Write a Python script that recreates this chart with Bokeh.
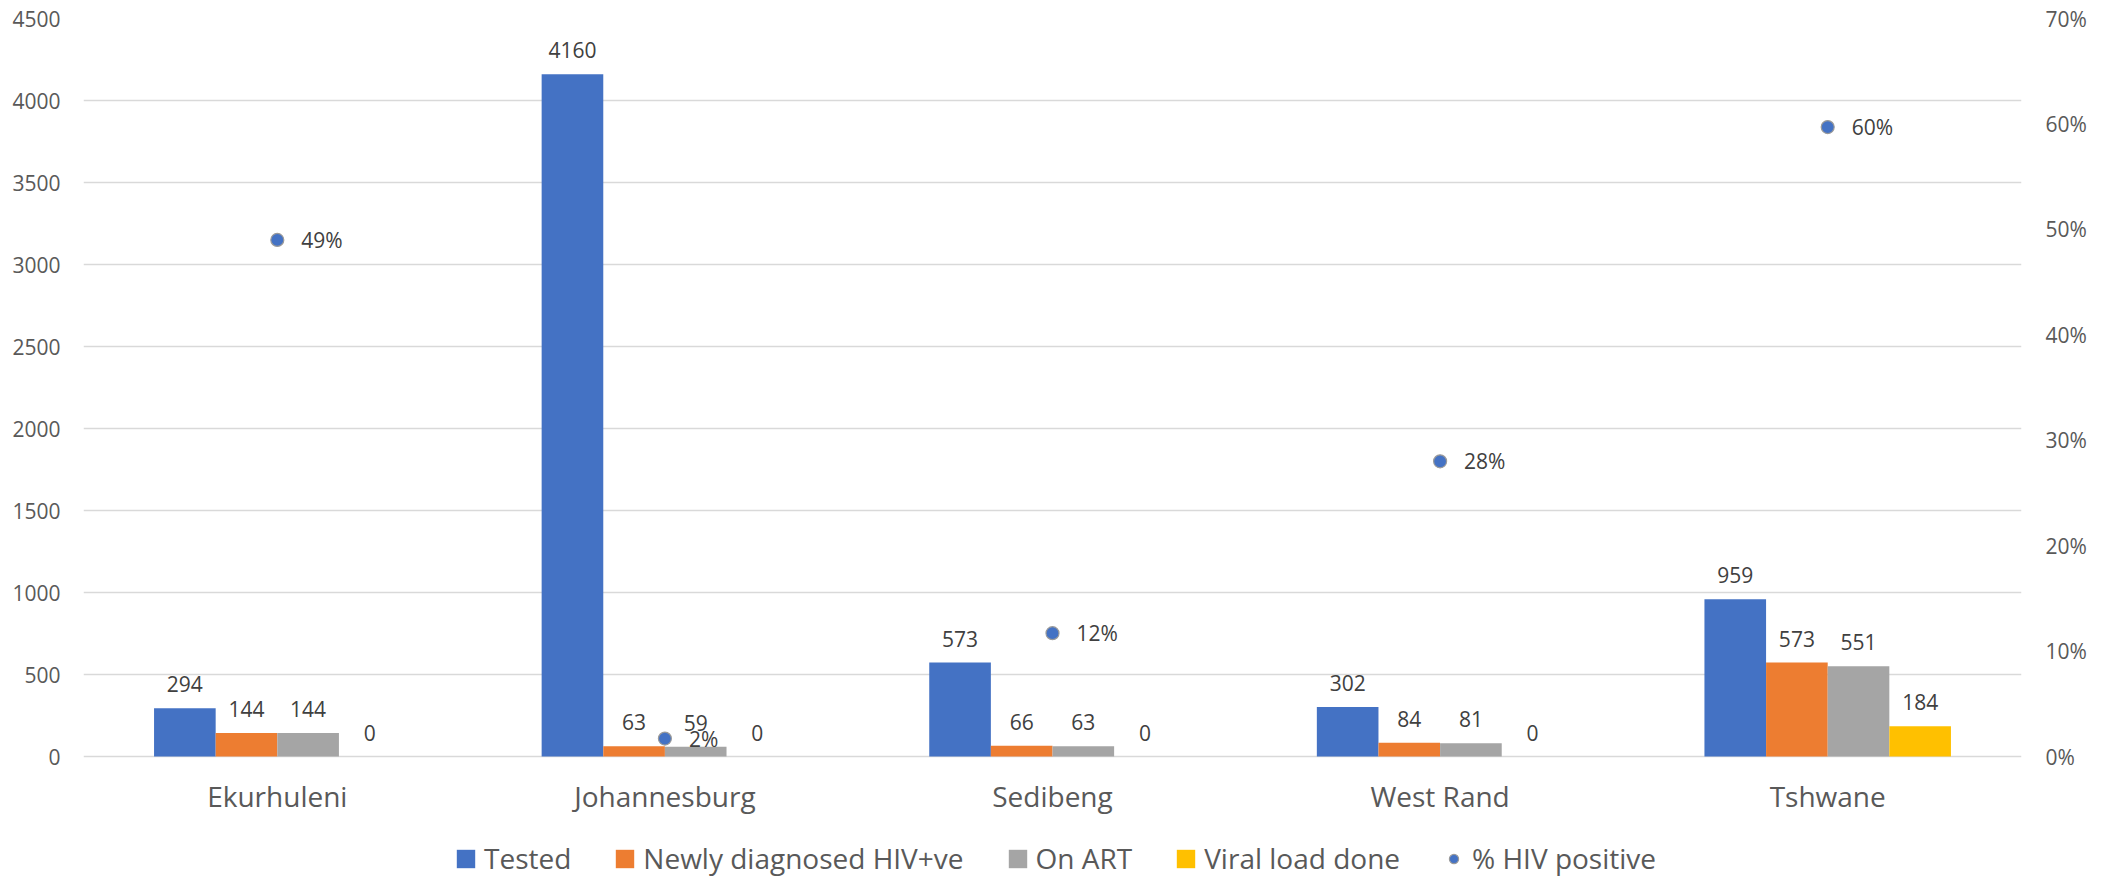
from bokeh.plotting import figure
from bokeh.models import (ColumnDataSource, FactorRange, Range1d, LinearAxis, Legend,
                          LegendItem, FixedTicker, NumeralTickFormatter)
from bokeh.transform import dodge
from bokeh.core.properties import value
from bokeh.embed import file_html
from bokeh.resources import INLINE

# ---- data ----
districts = ["Ekurhuleni", "Johannesburg", "Sedibeng", "West Rand", "Tshwane"]
tested = [294, 4160, 573, 302, 959]
newly_diagnosed = [144, 63, 66, 84, 573]
on_art = [144, 59, 63, 81, 551]
viral_load = [0, 0, 0, 0, 184]
pct_positive = [0.49, 0.017, 0.117, 0.28, 0.597]
pct_labels = ["49%", "2%", "12%", "28%", "60%"]
left_ticks = [0, 500, 1000, 1500, 2000, 2500, 3000, 3500, 4000, 4500]
right_ticks = [0, 0.1, 0.2, 0.3, 0.4, 0.5, 0.6, 0.7]
series_names = ["Tested", "Newly diagnosed HIV+ve", "On ART", "Viral load done"]
series_cols = ["tested", "newly", "onart", "viral"]
series_colors = ["#4472C4", "#ED7D31", "#A5A5A5", "#FFC000"]
dot_color = "#4472C4"

FONT = "Open Sans"
BAR_W = 0.159
offsets = [-1.5 * BAR_W, -0.5 * BAR_W, 0.5 * BAR_W, 1.5 * BAR_W]

# layout: plot area 738 px tall for the value range, 123 px below the zero line
W, H = 2103, 879
TOP, AXIS_H, BELOW = 18, 738, 123
Y_MAX, P_MAX = 4500, 0.7
y_min = -BELOW * Y_MAX / AXIS_H
p_min = -BELOW * P_MAX / AXIS_H

src = ColumnDataSource(dict(
    district=districts,
    tested=tested, newly=newly_diagnosed, onart=on_art, viral=viral_load,
    tested_lbl=[str(v) for v in tested],
    newly_lbl=[str(v) for v in newly_diagnosed],
    onart_lbl=[str(v) for v in on_art],
    viral_lbl=[str(v) for v in viral_load],
    pct=pct_positive, pct_lbl=pct_labels,
))

p = figure(x_range=FactorRange(factors=districts, range_padding=0),
           y_range=Range1d(y_min, Y_MAX),
           width=W, height=H,
           output_backend="svg", toolbar_location=None,
           min_border_left=83, min_border_right=82, min_border_top=TOP,
           min_border_bottom=0)
p.outline_line_color = None
p.background_fill_color = "white"
p.border_fill_color = "white"

# left axis
lax = p.left[0]
lax.ticker = FixedTicker(ticks=left_ticks)
lax.axis_line_color = None
lax.major_tick_line_color = None
lax.minor_tick_line_color = None
lax.major_tick_out = 0
lax.minor_tick_out = 0
lax.major_label_standoff = 23
lax.major_label_text_font = FONT
lax.major_label_text_font_size = "21px"
lax.major_label_text_color = "#595959"

p.ygrid.grid_line_color = "#D9D9D9"
p.ygrid.grid_line_width = 1.5
p.xgrid.grid_line_color = None

# secondary axis
p.extra_y_ranges = {"pct": Range1d(p_min, P_MAX)}
rax = LinearAxis(y_range_name="pct", ticker=FixedTicker(ticks=right_ticks),
                 formatter=NumeralTickFormatter(format="0%"))
rax.axis_line_color = None
rax.major_tick_line_color = None
rax.minor_tick_line_color = None
rax.major_tick_out = 0
rax.minor_tick_out = 0
rax.major_label_standoff = 24
rax.major_label_text_font = FONT
rax.major_label_text_font_size = "21px"
rax.major_label_text_color = "#595959"
p.add_layout(rax, "right")

# x axis drawn at the zero line
xax = p.below[0]
xax.fixed_location = 0
xax.axis_line_color = None
xax.major_tick_line_color = None
xax.major_tick_out = 0
xax.minor_tick_out = 0
xax.major_label_standoff = 20
xax.major_label_text_font = FONT
xax.major_label_text_font_size = "28px"
xax.major_label_text_color = "#595959"

# bars and labels
legend_items = []
for name, col, color, off in zip(series_names, series_cols, series_colors, offsets):
    r = p.vbar(x=dodge("district", off, range=p.x_range), top=col, width=BAR_W,
               source=src, fill_color=color, line_color=None)
    legend_items.append(LegendItem(label=name, renderers=[r]))
    p.text(x=dodge("district", off, range=p.x_range), y=col, text=col + "_lbl",
           source=src, text_align="center", text_baseline="middle", y_offset=-24,
           text_font=value(FONT), text_font_size="21px", text_color="#404040")

# % HIV positive points
dots = p.scatter(x="district", y="pct", y_range_name="pct", source=src, size=13,
                 fill_color=dot_color, line_color="#9A9A9A", line_width=1.2)
legend_items.append(LegendItem(label="% HIV positive", renderers=[dots]))
p.text(x="district", y="pct", y_range_name="pct", text="pct_lbl", source=src,
       x_offset=24, text_align="left", text_baseline="middle",
       text_font=value(FONT), text_font_size="21px", text_color="#404040")

legend = Legend(items=legend_items, orientation="horizontal", nrows=1,
                location=(371, 2),
                glyph_width=23, glyph_height=23, label_standoff=7, spacing=42,
                label_text_font=FONT, label_text_font_size="28px",
                label_text_color="#595959", border_line_color=None,
                background_fill_alpha=0, padding=0, margin=0)
p.add_layout(legend, "center")

open("out.html", "w").write(file_html(p, INLINE))
